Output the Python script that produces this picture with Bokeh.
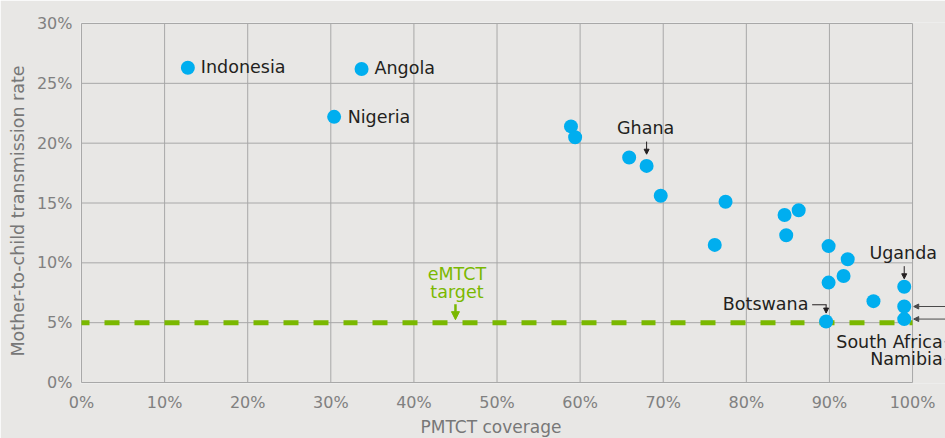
from bokeh.plotting import figure
from bokeh.models import NumeralTickFormatter, FixedTicker, Label, Arrow, NormalHead, Title
from bokeh.embed import file_html
from bokeh.resources import INLINE

# ---------------- data ----------------
coverage = [0.128, 0.337, 0.304, 0.589, 0.594, 0.659, 0.680, 0.697, 0.775, 0.762,
            0.846, 0.863, 0.848, 0.899, 0.922, 0.917, 0.899, 0.990, 0.953, 0.990,
            0.990, 0.896]
transmission = [0.263, 0.262, 0.222, 0.214, 0.205, 0.188, 0.181, 0.156, 0.151, 0.115,
                0.140, 0.144, 0.123, 0.114, 0.103, 0.089, 0.0835, 0.080, 0.068, 0.0635,
                0.053, 0.051]
label_names = ["Indonesia", "Angola", "Nigeria", "Ghana", "Uganda", "Botswana",
               "South Africa", "Namibia"]
label_index = [0, 1, 2, 6, 17, 21, 19, 20]
target_rate = 0.05
target_coverage = 0.45
x_ticks = [0.0, 0.1, 0.2, 0.3, 0.4, 0.5, 0.6, 0.7, 0.8, 0.9, 1.0]
y_ticks = [0.0, 0.05, 0.10, 0.15, 0.20, 0.25, 0.30]
x_title = "PMTCT coverage"
y_title = "Mother-to-child transmission rate"

# ---------------- style ----------------
BG = "#e8e7e5"
GRID = "#a8a8a8"
BLUE = "#00aeef"
GREEN = "#7ab800"
DARK = "#231f20"
TICK = "#808080"
TITLE = "#777777"
FONT = "DejaVu Sans"

W, H = 945, 438
# pixel geometry of the data area (0..100% , 0..30%)
X0PX, X1PX = 80, 912
Y0PX, Y1PX = 382, 23
DX = 1.0 / (X1PX - X0PX)          # data units per pixel, x
DY = 0.30 / (Y0PX - Y1PX)         # data units per pixel, y

x_start = x_ticks[0] - DX
x_end = x_ticks[-1] + (W - X1PX) * DX
y_start = y_ticks[0] - DY
y_end = y_ticks[-1] + DY

p = figure(width=W, height=H, x_range=(x_start, x_end), y_range=(y_start, y_end),
           output_backend="svg", toolbar_location=None,
           min_border_left=X0PX - 1, min_border_right=0,
           min_border_top=Y1PX - 1, min_border_bottom=H - Y0PX - 1)
p.background_fill_color = BG
p.border_fill_color = BG
p.outline_line_color = None
p.grid.grid_line_color = None

for ax in (p.xaxis[0], p.yaxis[0]):
    ax.axis_line_color = None
    ax.major_tick_line_color = None
    ax.minor_tick_line_color = None
    ax.major_tick_out = 0
    ax.major_tick_in = 0
    ax.major_label_text_font = FONT
    ax.major_label_text_font_size = "16px"
    ax.major_label_text_color = TICK
    ax.formatter = NumeralTickFormatter(format="0%")

p.xaxis.ticker = FixedTicker(ticks=x_ticks)
p.yaxis.ticker = FixedTicker(ticks=y_ticks)
p.xaxis.major_label_standoff = 9
p.yaxis.major_label_standoff = 8

# axis titles (placed as side titles so they can be positioned like the original)
p.add_layout(Title(text=x_title, align="left", offset=340, vertical_align="bottom",
                   standoff=0, text_font=FONT, text_font_size="17px",
                   text_font_style="normal", text_color=TITLE), "below")
p.add_layout(Title(text=y_title, align="left", offset=27, vertical_align="bottom",
                   standoff=11, text_font=FONT, text_font_size="17.5px",
                   text_font_style="normal", text_color=TITLE), "left")

# grid lines, bounded to the 0..100% / 0..30% area
p.segment(x0=x_ticks, x1=x_ticks, y0=[y_ticks[0]] * len(x_ticks), y1=[y_ticks[-1]] * len(x_ticks),
          line_color=GRID, line_width=1)
p.segment(x0=[x_ticks[0]] * len(y_ticks), x1=[x_ticks[-1]] * len(y_ticks), y0=y_ticks, y1=y_ticks,
          line_color=GRID, line_width=1)

# eMTCT target dashed line
p.line(x=[x_ticks[0], x_ticks[-1]], y=[target_rate, target_rate], line_color=GREEN,
       line_width=5, line_dash="15 15 15 15 15 15 15 15 14 15", line_dash_offset=7)

# points
p.scatter(x=coverage, y=transmission, size=14, fill_color=BLUE, line_color=None)


def lab(x, y, text, dx, dy, align="left", color=DARK, size="17.5px"):
    p.add_layout(Label(x=x, y=y, text=text, x_offset=dx, y_offset=dy,
                       text_align=align, text_baseline="alphabetic",
                       text_font=FONT, text_font_size=size, text_color=color))


def arrow(x0, y0, x1, y1, color=DARK, width=1, head=5):
    end = NormalHead(size=head, line_color=color, fill_color=color, line_width=1) if head else None
    p.add_layout(Arrow(x_start=x0, y_start=y0, x_end=x1, y_end=y1, end=end,
                       line_color=color, line_width=width))


pts = {n: (coverage[i], transmission[i]) for n, i in zip(label_names, label_index)}

# side labels
for n, dx, dy in [("Indonesia", 13, 1.2), ("Angola", 13, 1), ("Nigeria", 13.5, 0.3)]:
    x, y = pts[n]
    lab(x, y, n, dx, dy)

# labels above with down arrows
for n, dy, a0, a1 in [("Ghana", 38, 24.3, 11.7), ("Uganda", 33.3, 20.6, 8)]:
    x, y = pts[n]
    lab(x, y, n, -1, dy, align="center")
    arrow(x, y + a0 * DY, x, y + a1 * DY)

# Botswana
x, y = pts["Botswana"]
lab(x, y, "Botswana", -17.7, 17.7, align="right")
arrow(x - 14 * DX, y + 16.7 * DY, x + 0.5 * DX, y + 16.7 * DY, head=0)
arrow(x, y + 16.7 * DY, x, y + 8.4 * DY, head=5)

# South Africa / Namibia
for n, dy, ly in [("South Africa", -35.3, -35.3), ("Namibia", -39.7, -40.2)]:
    x, y = pts[n]
    lab(x, y, n, 38.4, dy, align="right")
    arrow(x + 40.5 * DX, y + ly * DY, x + 60 * DX, y + ly * DY, head=0)
    arrow(x + 60 * DX, y, x + 9.5 * DX, y, color="#4a4a4a", head=5)

# eMTCT target label
lab(target_coverage, target_rate, "eMTCT", 1.5, 48.7, align="center", color=GREEN)
lab(target_coverage, target_rate, "target", 1.5, 30.3, align="center", color=GREEN)
arrow(target_coverage, target_rate + 18.5 * DY, target_coverage, target_rate + 3 * DY,
      color=GREEN, width=2.5, head=8)

open("out.html", "w").write(file_html(p, INLINE))
